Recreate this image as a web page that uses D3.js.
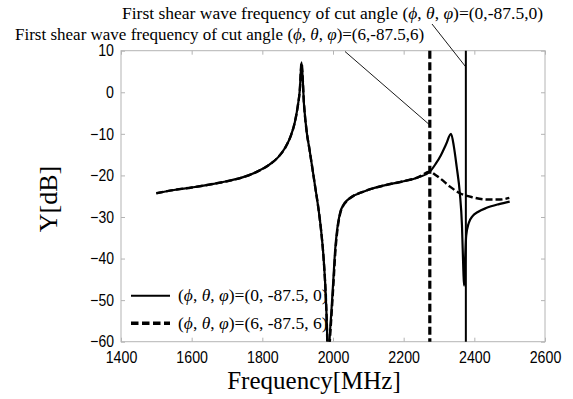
<!DOCTYPE html>
<html><head><meta charset="utf-8">
<script src="https://cdn.jsdelivr.net/npm/d3@7"></script>
<style>body{margin:0;background:#fff}svg{display:block}</style>
</head><body>
<svg id="c" width="573" height="399"></svg>
<script>
// ---------- data ----------
const xTicks = [1400, 1600, 1800, 2000, 2200, 2400, 2600];
const yTicks = [-60, -50, -40, -30, -20, -10, 0, 10];

// (phi,theta,psi) = (0,-87.5,0)  -- solid
const freqSolid = [1500,1550,1600,1650,1700,1750,1790,1820,1845,1865,1880,1892,1900,1906,1911,
  1918,1926,1933,1942,1950,1958,1966,1973,1979,1983,1986,1990,1996,2001,2006,2011,2020,2030,2040,2060,
  2080,2110,2150,2200,2240,2274,2290,2305,2320,2334,2342,2350,2359,2365,2369,2371,2374,2377,2384,2395,
  2410,2435,2470,2500];
const dbSolid = [-24.3,-23.5,-22.9,-22.2,-21.4,-20.3,-18.9,-17.4,-15.6,-13.3,-10.6,-7.2,-3.5,0.5,7.2,
  -3,-9.8,-13.5,-18.5,-23,-27.5,-33,-39.5,-48,-57,-68,-60,-52,-45,-38,-33.5,-29,-27,-26,-24.8,
  -24.1,-23.2,-22.3,-21.4,-20.5,-19.1,-17.3,-15.2,-12.5,-10.0,-13,-17.9,-24.3,-32,-43,-46.5,-40,-34.5,-31.5,-29.8,
  -28.8,-27.8,-26.9,-26.3];

// (phi,theta,psi) = (6,-87.5,6)  -- dashed
const freqDashed = [1500,1550,1600,1650,1700,1750,1790,1820,1845,1865,1880,1892,1900,1906,1911,
  1918,1926,1933,1942,1950,1958,1966,1973,1979,1983,1986,1991,1997,2002,2007,2012,2021,2031,2041,2060,
  2080,2110,2150,2200,2240,2274,2290,2303,2331,2359,2397,2435,2473,2499];
const dbDashed = [-24.3,-23.5,-22.9,-22.2,-21.4,-20.3,-18.9,-17.4,-15.6,-13.3,-10.6,-7.2,-3.5,0.5,7.0,
  -3,-9.8,-13.5,-18.5,-23,-27.5,-33,-39.5,-48,-57,-68,-60,-52,-45,-38,-33.5,-29,-27,-26,-24.8,
  -24.1,-23.2,-22.3,-21.4,-20.5,-19.1,-19.9,-20.7,-22.7,-24.3,-25.3,-25.8,-25.8,-25.4];

const shearFreqSolid = 2376;
const shearFreqDashed = 2274;
const legendValues = ["0, -87.5, 0", "6, -87.5, 6"];
const annotationValues = ["0,-87.5,0", "6,-87.5,6"];

// ---------- layout ----------
const L = 121, R = 545, T = 50.7, B = 341.7;
const svg = d3.select("#c");
const x = d3.scaleLinear().domain([1400, 2600]).range([L, R]);
const y = d3.scaleLinear().domain([-60, 10]).range([B, T]);
const serif = "'Liberation Serif','Times New Roman',serif";
const sans = "'Liberation Sans',Arial,sans-serif";
const gridCol = "#b4b4b4";

// axes with inward ticks
const gx = svg.append("g").attr("transform", `translate(0,${B})`)
  .call(d3.axisBottom(x).tickValues(xTicks).tickSize(-4).tickPadding(9.5).tickFormat(d3.format("d")));
const gy = svg.append("g").attr("transform", `translate(${L},0)`)
  .call(d3.axisLeft(y).tickValues(yTicks).tickSize(-4).tickPadding(7));
const gt = svg.append("g").attr("transform", `translate(0,${T})`)
  .call(d3.axisTop(x).tickValues(xTicks).tickSize(-4).tickFormat(""));
const gr = svg.append("g").attr("transform", `translate(${R},0)`)
  .call(d3.axisRight(y).tickValues(yTicks).tickSize(-4).tickFormat(""));
[gx, gy, gt, gr].forEach(g => {
  g.select(".domain").remove();
  g.selectAll(".tick line").attr("stroke", gridCol);
  g.selectAll("text").attr("fill", "#000").style("font-family", sans).style("font-size", "16.5px")
    .each(function () {
      const n = this.textContent.length;
      if (n) d3.select(this).attr("textLength", n * 7.9).attr("lengthAdjust", "spacingAndGlyphs");
    });
});
svg.append("rect").attr("x", L).attr("y", T).attr("width", R - L).attr("height", B - T)
  .attr("fill", "none").attr("stroke", gridCol).attr("stroke-width", 1);

// clip
svg.append("clipPath").attr("id", "clip").append("rect")
  .attr("x", L).attr("y", T).attr("width", R - L).attr("height", B - T);

const line = d3.line().x(d => x(d[0])).y(d => y(d[1])).curve(d3.curveMonotoneX);
const plot = svg.append("g").attr("clip-path", "url(#clip)");

plot.append("path").datum(d3.zip(freqDashed, dbDashed)).attr("d", line)
  .attr("fill", "none").attr("stroke", "#000").attr("stroke-width", 2.4).attr("stroke-dasharray", "7,3");
plot.append("path").datum(d3.zip(freqSolid, dbSolid)).attr("d", line)
  .attr("fill", "none").attr("stroke", "#000").attr("stroke-width", 2.2);

// vertical shear-frequency markers
svg.append("line").attr("x1", x(shearFreqDashed)).attr("x2", x(shearFreqDashed)).attr("y1", T).attr("y2", B)
  .attr("stroke", "#000").attr("stroke-width", 3.2).attr("stroke-dasharray", "8,3.5");
svg.append("line").attr("x1", x(shearFreqSolid)).attr("x2", x(shearFreqSolid)).attr("y1", T).attr("y2", B)
  .attr("stroke", "#000").attr("stroke-width", 2);

// leader lines
svg.append("line").attr("x1", 432).attr("y1", 24).attr("x2", x(shearFreqSolid)).attr("y2", 67)
  .attr("stroke", "#000").attr("stroke-width", 0.9);
svg.append("line").attr("x1", 345).attr("y1", 51.5).attr("x2", x(shearFreqDashed)).attr("y2", 125)
  .attr("stroke", "#000").attr("stroke-width", 0.9);

function angleText(sel, vals) {
  sel.append("tspan").text("(");
  sel.append("tspan").attr("font-style", "italic").text("\u03D5");
  sel.append("tspan").text(", ");
  sel.append("tspan").attr("font-style", "italic").text("\u03B8");
  sel.append("tspan").text(", ");
  sel.append("tspan").attr("font-style", "italic").text("\u03C6");
  sel.append("tspan").text(")=(" + vals + ")");
}

// annotations
const a1 = svg.append("text").attr("x", 122).attr("y", 19).style("font-family", serif).style("font-size", "17.5px");
a1.append("tspan").text("First shear wave frequency of cut angle ");
angleText(a1, annotationValues[0]);
const a2 = svg.append("text").attr("x", 15).attr("y", 40).style("font-family", serif).style("font-size", "17px");
a2.append("tspan").text("First shear wave frequency of cut angle ");
angleText(a2, annotationValues[1]);

// legend
const legY = [295.7, 323.3];
svg.append("line").attr("x1", 131).attr("x2", 170).attr("y1", legY[0]).attr("y2", legY[0])
  .attr("stroke", "#000").attr("stroke-width", 2);
svg.append("line").attr("x1", 131).attr("x2", 170).attr("y1", legY[1]).attr("y2", legY[1])
  .attr("stroke", "#000").attr("stroke-width", 3.5).attr("stroke-dasharray", "7.5,3.5");
legendValues.forEach((v, i) => {
  const t = svg.append("text").attr("x", 178).attr("y", legY[i] + 5.5)
    .style("font-family", serif).style("font-size", "17.5px");
  angleText(t, v);
});

// axis titles
svg.append("text").attr("x", 314).attr("y", 389).attr("text-anchor", "middle")
  .style("font-family", serif).style("font-size", "25px").text("Frequency[MHz]");
svg.append("text").attr("transform", "translate(57,199) rotate(-90)").attr("text-anchor", "middle")
  .style("font-family", serif).style("font-size", "26px").text("Y[dB]");
</script>
</body></html>
